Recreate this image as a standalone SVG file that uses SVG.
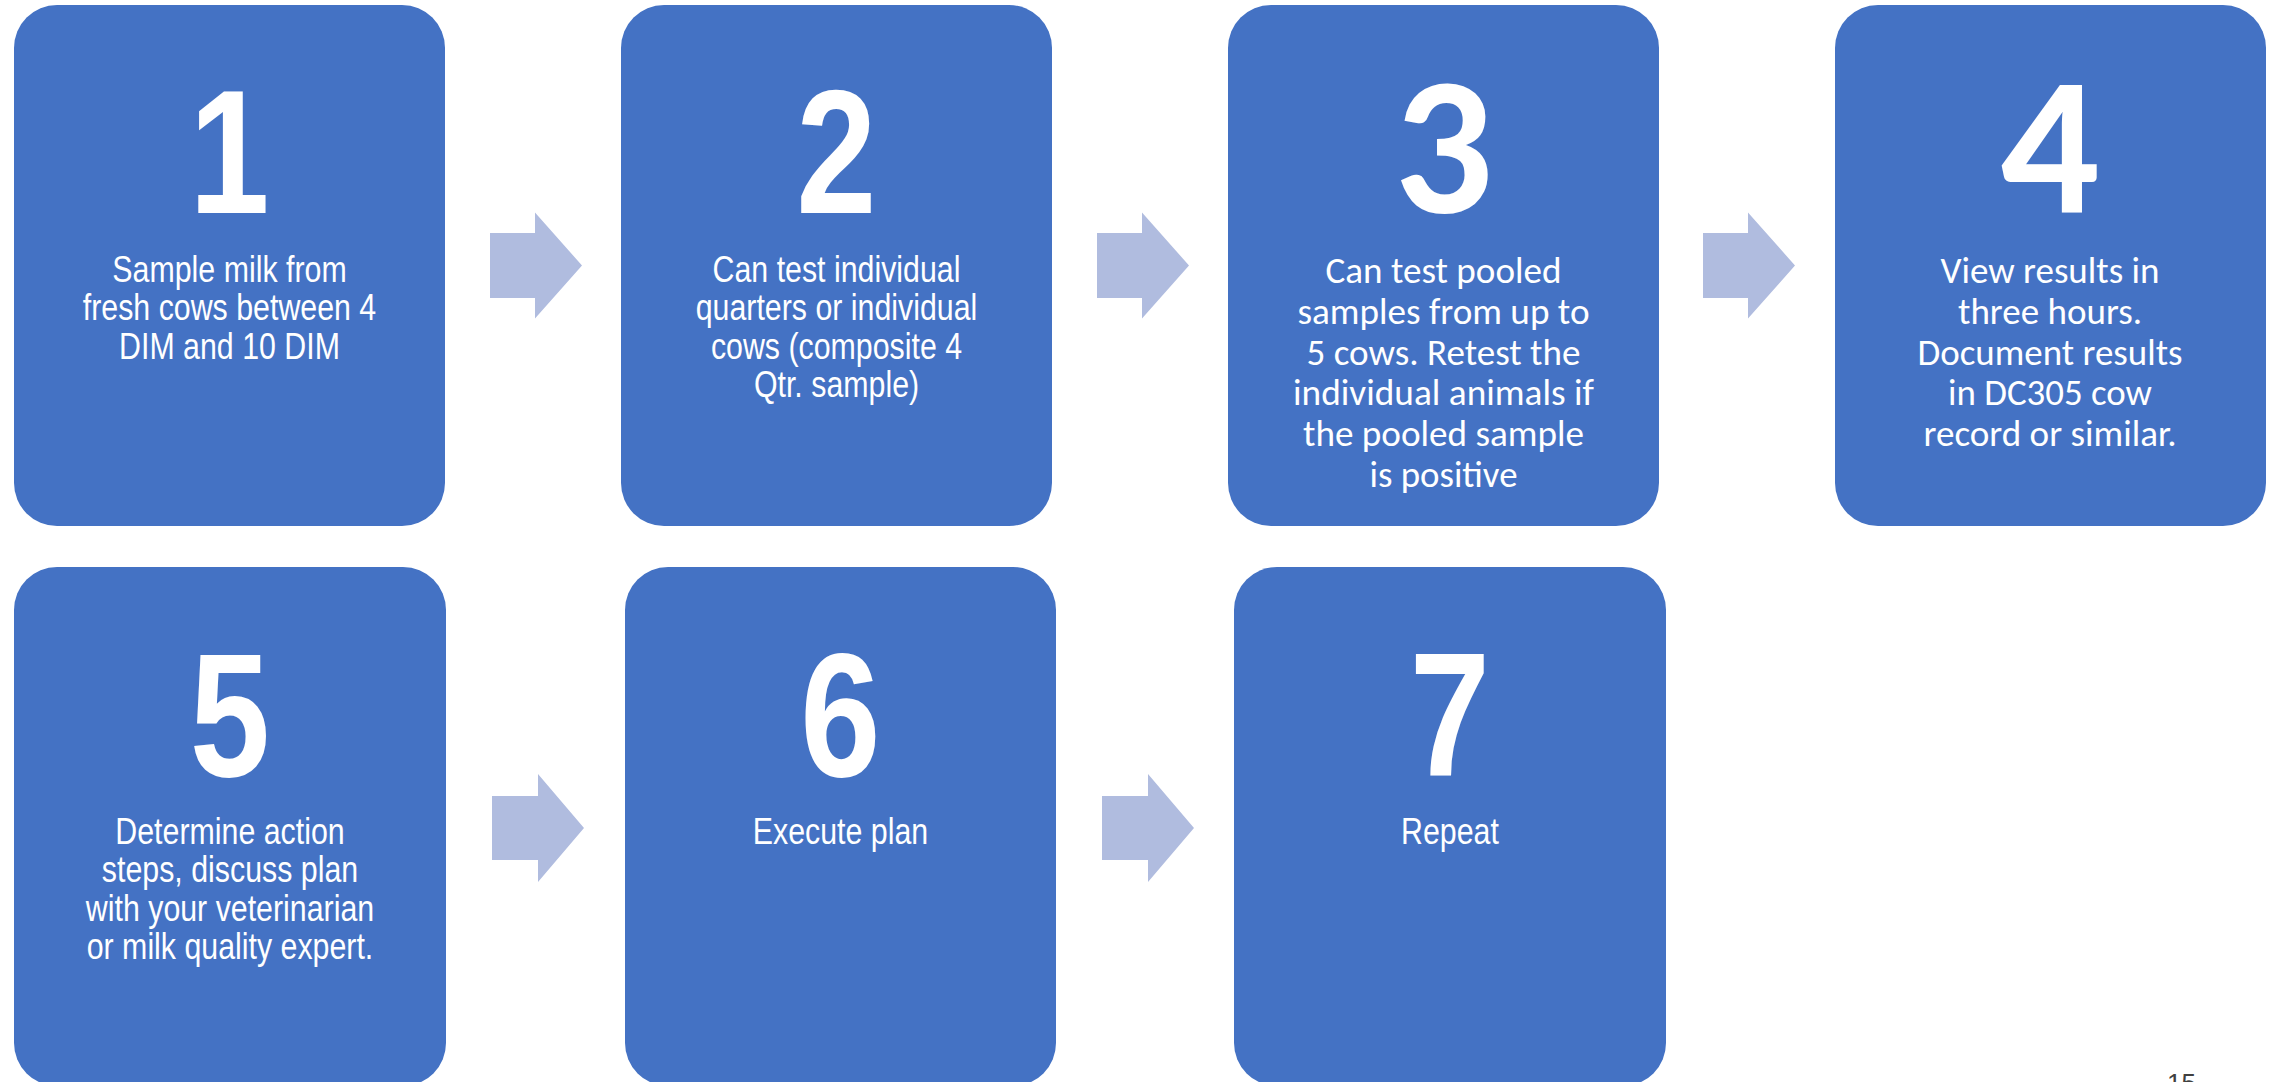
<svg xmlns="http://www.w3.org/2000/svg" width="2272" height="1082" viewBox="0 0 2272 1082">
<style>
.box{fill:#4472C4;}
.arr{fill:#B0BCDF;}
.num{font-family:"Liberation Sans",Arial,sans-serif;font-weight:bold;font-size:176px;fill:#fff;text-anchor:middle;}
.numc{font-family:Carlito,Calibri,"Open Sans",sans-serif;font-weight:bold;font-size:196px;fill:#fff;text-anchor:middle;}
.t{font-family:"Liberation Sans",Arial,sans-serif;font-size:37px;fill:#fff;text-anchor:middle;}
.c{font-family:Carlito,Calibri,"Open Sans",sans-serif;font-size:36px;fill:#fff;text-anchor:middle;}
.pg{font-family:"Liberation Sans",Arial,sans-serif;font-size:26px;fill:#404040;}
</style>
<rect width="2272" height="1082" fill="#fff"/>
<g id="connectors">
<polygon class="arr" points="490,233 535,233 535,212.5 582,265.5 535,318.5 535,298 490,298"/>
<polygon class="arr" points="1097,233 1142,233 1142,212.5 1189,265.5 1142,318.5 1142,298 1097,298"/>
<polygon class="arr" points="1703,233 1748,233 1748,212.5 1795,265.5 1748,318.5 1748,298 1703,298"/>
<polygon class="arr" points="492,796 538,796 538,774 584,828 538,882 538,860 492,860"/>
<polygon class="arr" points="1102,796 1148,796 1148,774 1194,828 1148,882 1148,860 1102,860"/>
</g>
<g id="node1">
<rect class="box" x="14" y="5" width="431" height="521" rx="43" ry="43"/>
<g transform="translate(229.5,0) scale(0.82,1)">
<text class="num" x="0" y="213">1</text>
<text class="t" x="0" y="282">Sample milk from</text>
<text class="t" x="0" y="320.5">fresh cows between 4</text>
<text class="t" x="0" y="359">DIM and 10 DIM</text>
</g>
</g>
<g id="node2">
<rect class="box" x="621" y="5" width="431" height="521" rx="43" ry="43"/>
<g transform="translate(836.5,0) scale(0.82,1)">
<text class="num" x="0" y="213">2</text>
<text class="t" x="0" y="282">Can test individual</text>
<text class="t" x="0" y="320.5">quarters or individual</text>
<text class="t" x="0" y="359">cows (composite 4</text>
<text class="t" x="0" y="397.5">Qtr. sample)</text>
</g>
</g>
<g id="node3">
<rect class="box" x="1228" y="5" width="431" height="521" rx="43" ry="43"/>
<text class="numc" x="1443.5" y="213">3</text>
<text class="c" x="1443.5" y="283" textLength="236" lengthAdjust="spacingAndGlyphs">Can test pooled</text>
<text class="c" x="1443.5" y="323.5" textLength="292" lengthAdjust="spacingAndGlyphs">samples from up to</text>
<text class="c" x="1443.5" y="364.5" textLength="274" lengthAdjust="spacingAndGlyphs">5 cows. Retest the</text>
<text class="c" x="1443.5" y="405" textLength="301" lengthAdjust="spacingAndGlyphs">individual animals if</text>
<text class="c" x="1443.5" y="446" textLength="281" lengthAdjust="spacingAndGlyphs">the pooled sample</text>
<text class="c" x="1443.5" y="487" textLength="148" lengthAdjust="spacingAndGlyphs">is positive</text>
</g>
<g id="node4">
<rect class="box" x="1835" y="5" width="431" height="521" rx="43" ry="43"/>
<text class="numc" x="2050" y="213">4</text>
<text class="c" x="2050" y="283" textLength="219" lengthAdjust="spacingAndGlyphs">View results in</text>
<text class="c" x="2050" y="323.5" textLength="184" lengthAdjust="spacingAndGlyphs">three hours.</text>
<text class="c" x="2050" y="364.5" textLength="265" lengthAdjust="spacingAndGlyphs">Document results</text>
<text class="c" x="2050" y="405" textLength="204" lengthAdjust="spacingAndGlyphs">in DC305 cow</text>
<text class="c" x="2050" y="446" textLength="253" lengthAdjust="spacingAndGlyphs">record or similar.</text>
</g>
<g id="node5">
<rect class="box" x="14" y="567" width="432" height="519" rx="43" ry="43"/>
<g transform="translate(230,0) scale(0.82,1)">
<text class="num" x="0" y="776">5</text>
<text class="t" x="0" y="844">Determine action</text>
<text class="t" x="0" y="882.5">steps, discuss plan</text>
<text class="t" x="0" y="921">with your veterinarian</text>
<text class="t" x="0" y="959.5">or milk quality expert.</text>
</g>
</g>
<g id="node6">
<rect class="box" x="625" y="567" width="431" height="519" rx="43" ry="43"/>
<g transform="translate(840.5,0) scale(0.82,1)">
<text class="num" x="0" y="776">6</text>
<text class="t" x="0" y="844">Execute plan</text>
</g>
</g>
<g id="node7">
<rect class="box" x="1234" y="567" width="432" height="519" rx="43" ry="43"/>
<g transform="translate(1450,0) scale(0.82,1)">
<text class="num" x="0" y="776">7</text>
<text class="t" x="0" y="844">Repeat</text>
</g>
</g>
<text class="pg" x="2167" y="1092">15</text>
</svg>
